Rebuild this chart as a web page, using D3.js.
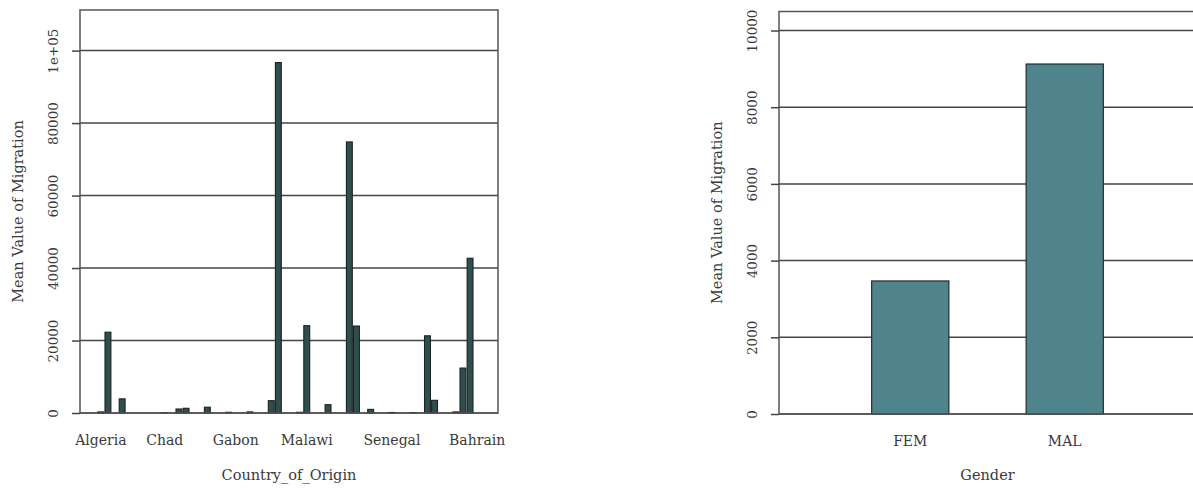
<!DOCTYPE html>
<html>
<head>
<meta charset="utf-8">
<script src="https://cdn.jsdelivr.net/npm/d3@7"></script>
<style>
    body { margin: 0; background: #fff; }
    text { font-family: "DejaVu Serif", serif; fill: #3a3a3a; }
</style>
</head>
<body>
<script>
//chart data

//countries on the left chart, in plot order
var countries = ["Algeria", "Angola", "Benin", "Botswana", "Burkina Faso", "Burundi",
    "Cabo Verde", "Cameroon", "Central African Republic", "Chad", "Comoros", "Congo",
    "Cote d'Ivoire", "DR Congo", "Djibouti", "Egypt", "Equatorial Guinea", "Eritrea",
    "Ethiopia", "Gabon", "Gambia", "Ghana", "Guinea", "Guinea-Bissau", "Kenya", "Lesotho",
    "Liberia", "Libya", "Madagascar", "Malawi", "Mali", "Mauritania", "Mauritius", "Morocco",
    "Mozambique", "Namibia", "Niger", "Nigeria", "Reunion", "Rwanda", "Sao Tome and Principe",
    "Senegal", "Seychelles", "Sierra Leone", "Somalia", "South Africa", "Sudan", "Swaziland",
    "Togo", "Tunisia", "Uganda", "Zambia", "Zimbabwe", "Bahrain"];

//mean migration per country
var countryValues = [300, 22300, 0, 3900, 0, 0,
    0, 0, 0, 50, 0, 1100,
    1300, 0, 0, 1600, 0, 0,
    200, 0, 0, 300, 0, 0, 3400, 96700,
    0, 0, 200, 24100, 0, 0, 2300, 0,
    0, 74800, 24000, 0, 1000, 0, 0,
    150, 0, 0, 100, 0, 21300, 3500,
    0, 0, 300, 12400, 42700, 0];

//only these names are printed under the axis
var countryLabels = ["Algeria", "Chad", "Gabon", "Malawi", "Senegal", "Bahrain"];

//left y axis ticks
var countryTicks = [0, 20000, 40000, 60000, 80000, 100000];
var countryTickLabels = ["0", "20000", "40000", "60000", "80000", "1e+05"];

//right chart
var genders = ["FEM", "MAL"];
var genderValues = [3470, 9127];
var genderTicks = [0, 2000, 4000, 6000, 8000, 10000];
var genderTickLabels = ["0", "2000", "4000", "6000", "8000", "10000"];

var width = 1193;
var height = 489;

var svg = d3.select("body")
    .append("svg")
    .attr("width", width)
    .attr("height", height);

//left chart
drawBars({
    left: 80, right: 498, top: 10, bottom: 413,
    cats: countries, values: countryValues, labels: countryLabels,
    ticks: countryTicks, tickLabels: countryTickLabels,
    padIn: 0.17, padOut: 2.52,
    fill: "#2f4f4f",
    xTitle: "Country_of_Origin"
});

//right chart (right edge runs off the picture)
drawBars({
    left: 779, right: 1196, top: 11.5, bottom: 414,
    cats: genders, values: genderValues, labels: genders,
    ticks: genderTicks, tickLabels: genderTickLabels,
    padIn: 0.5, padOut: 0.6,
    fill: "#4f848d",
    xTitle: "Gender"
});

function drawBars(o){
    var g = svg.append("g");

    var x = d3.scaleBand()
        .domain(o.cats)
        .range([o.left, o.right])
        .paddingInner(o.padIn)
        .paddingOuter(o.padOut);

    //y range goes 15% above the tallest bar
    var y = d3.scaleLinear()
        .domain([0, d3.max(o.values) * 1.15])
        .range([o.bottom, o.top]);

    //horizontal grid lines behind the bars
    g.selectAll(".grid")
        .data(o.ticks)
        .enter()
        .append("line")
        .attr("class", "grid")
        .attr("x1", o.left)
        .attr("x2", o.right)
        .attr("y1", function(d){ return y(d); })
        .attr("y2", function(d){ return y(d); })
        .style("stroke", "#444")
        .style("stroke-width", 1.5);

    //bars
    g.selectAll(".bar")
        .data(o.cats)
        .enter()
        .append("rect")
        .attr("class", "bar")
        .attr("x", function(d){ return x(d); })
        .attr("width", x.bandwidth())
        .attr("y", function(d, i){ return y(o.values[i]); })
        .attr("height", function(d, i){ return o.bottom - y(o.values[i]); })
        .style("fill", o.fill)
        .style("stroke", "#1a2222")
        .style("stroke-width", 1.1);

    //plot box
    g.append("rect")
        .attr("x", o.left)
        .attr("y", o.top)
        .attr("width", o.right - o.left)
        .attr("height", o.bottom - o.top)
        .style("fill", "none")
        .style("stroke", "#555")
        .style("stroke-width", 1.5);

    //y axis: ticks sticking out, labels turned sideways
    var yAxis = d3.axisLeft(y)
        .tickValues(o.ticks)
        .tickSize(8)
        .tickFormat(function(d, i){ return o.tickLabels[i]; });

    var ya = g.append("g")
        .attr("transform", "translate(" + o.left + ",0)")
        .call(yAxis);
    ya.select(".domain").remove();
    ya.selectAll("line").style("stroke", "#444").style("stroke-width", 1.5);
    ya.selectAll("text")
        .attr("x", 0)
        .attr("dy", "0.35em")
        .attr("transform", "translate(-27,0) rotate(-90)")
        .style("text-anchor", "middle")
        .style("font-size", "13.5px")
        .style("fill", "#3a3a3a");

    //x axis: names only
    var xAxis = d3.axisBottom(x)
        .tickValues(o.labels)
        .tickSize(0)
        .tickPadding(0);

    var xa = g.append("g")
        .attr("transform", "translate(0," + o.bottom + ")")
        .call(xAxis);
    xa.select(".domain").remove();
    xa.selectAll("text")
        .attr("y", 32)
        .attr("dy", 0)
        .style("font-size", "14px")
        .style("fill", "#3a3a3a");

    //axis titles
    g.append("text")
        .attr("x", (o.left + o.right) / 2)
        .attr("y", 480)
        .style("text-anchor", "middle")
        .style("font-size", "14.5px")
        .text(o.xTitle);

    g.append("text")
        .attr("transform", "translate(" + (o.left - 62) + "," + ((o.top + o.bottom) / 2) + ") rotate(-90)")
        .attr("dy", "0.35em")
        .style("text-anchor", "middle")
        .style("font-size", "14.5px")
        .text("Mean Value of Migration");
}
</script>
</body>
</html>
